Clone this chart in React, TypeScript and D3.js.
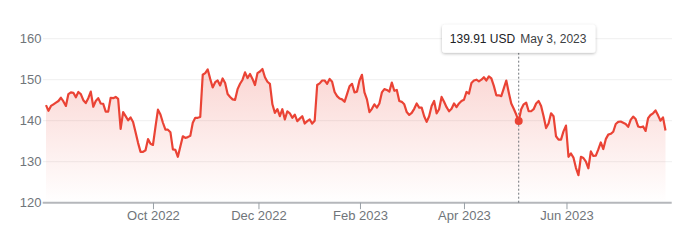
import React from "react";
import * as d3 from "d3";

// Daily closing prices (trading days, Aug 2022 – Jul 2023)
const prices: number[] = [
  143.8, 142.4, 143.6, 144.0, 144.4, 144.8, 145.6, 144.7, 143.6, 146.5,
  146.9, 146.8, 145.7, 147.0, 146.5, 145.0, 144.3, 145.5, 147.1, 143.4,
  144.8, 145.5, 144.2, 144.1, 142.2, 142.2, 145.6, 145.5, 145.8, 145.3,
  138.0, 142.1, 141.1, 140.1, 140.8,
  139.7, 137.2, 134.6, 132.4, 132.4, 132.8, 135.5, 134.4, 134.1, 138.5,
  142.7, 141.5, 139.5, 137.8, 137.8, 137.2, 133.0, 132.9, 131.2, 133.7,
  136.2, 135.8, 136.0, 136.3, 139.5, 140.7, 140.7, 140.9, 151.2, 151.6,
  152.5, 150.2, 148.1, 149.4,
  149.8, 148.6, 150.3, 149.2, 146.5, 145.8, 145.2, 145.1, 147.7, 149.0,
  150.0, 151.8, 150.4, 151.4, 150.2, 148.7, 151.6, 152.0, 152.6, 150.6,
  149.5, 149.0, 144.0, 141.9, 142.8, 141.1, 142.8, 140.3, 142.3, 141.8,
  140.7, 141.5, 139.9, 140.5, 141.1, 139.3, 139.9,
  140.3, 139.3, 140.0, 148.7, 149.1, 149.8, 149.8, 149.0, 150.2, 149.5,
  147.0, 146.0, 145.4, 145.2, 144.6, 146.5, 148.4, 149.0, 146.9, 147.1,
  149.8, 151.2, 146.9, 145.2, 142.1, 142.9, 144.0, 143.2, 144.2, 146.9,
  147.7, 147.5, 147.1, 149.3, 147.3,
  147.5, 144.8, 144.6, 144.0, 142.1, 141.4, 141.9, 142.9, 144.2, 143.2,
  143.2, 141.1, 139.7, 141.1, 143.6, 144.8, 141.8, 142.8, 145.8, 144.6,
  143.3, 142.3, 142.9, 144.2, 143.3, 144.2, 144.8, 145.1, 147.0, 146.6,
  149.2, 149.8, 150.0, 149.6,
  150.0, 150.6, 149.8, 150.8, 150.3, 148.5, 146.2, 146.2, 146.0, 147.9,
  149.8, 146.9, 144.2, 142.9, 141.5, 139.91, 142.8, 144.0, 144.4, 142.3,
  142.3, 142.8, 144.2, 144.8, 143.6, 141.1, 138.2, 139.3, 141.8, 141.1,
  136.2, 135.4, 135.4, 137.4, 138.8, 131.2, 132.0, 131.0, 128.5, 126.7,
  131.2, 130.9, 130.0, 128.4, 132.5, 131.4, 131.5, 133.0, 134.7, 133.1,
  135.5, 136.6, 136.8, 137.3, 139.2, 139.7, 139.8, 139.5, 139.2, 138.5,
  140.2, 141.0, 140.4, 138.6, 138.4, 138.6, 137.5, 140.6, 141.4, 141.8,
  142.5, 141.3, 140.0, 140.8, 137.6,
];

const yTicks: number[] = [120, 130, 140, 150, 160];
// month-start positions expressed in trading-day index units
const xTickPos: number[] = [43.2, 85.6, 126.4, 168.2, 209.4];
const xTickLabels: string[] = ["Oct 2022", "Dec 2022", "Feb 2023", "Apr 2023", "Jun 2023"];

const hoverIndex = 190;
const hoverPrice = "139.91 USD";
const hoverDate = "May 3, 2023";

const W = 699;
const H = 245;
const LINE = "#ea4335";
const FONT = "'Liberation Sans', Arial, Helvetica, sans-serif";

export default function App() {
  const x = d3.scaleLinear().domain([0, prices.length - 1]).range([46, 665.5]);
  const y = d3.scaleLinear().domain([120, 160]).range([202.7, 38.7]);

  const line = d3
    .line<number>()
    .x((_, i) => x(i))
    .y((d) => y(d));
  const area = d3
    .area<number>()
    .x((_, i) => x(i))
    .y0(y(120))
    .y1((d) => y(d));

  const hx = x(hoverIndex);
  const hy = y(prices[hoverIndex]);
  const boxW = 153.4;
  const boxH = 28;
  const boxX = hx - boxW / 2;
  const boxY = 24.7;

  return (
    <svg
      width={W}
      height={H}
      style={{ position: "absolute", left: 0, top: 0, background: "#fff" }}
      fontFamily={FONT}
    >
      <defs>
        <linearGradient id="fillGrad" x1="0" y1={y(153)} x2="0" y2={y(120)} gradientUnits="userSpaceOnUse">
          <stop offset="0" stopColor={LINE} stopOpacity={0.22} />
          <stop offset="1" stopColor={LINE} stopOpacity={0.0} />
        </linearGradient>
        <filter id="shadow" x="-20%" y="-40%" width="140%" height="190%">
          <feDropShadow dx="0" dy="1" stdDeviation="1.6" floodColor="#000" floodOpacity="0.28" />
        </filter>
      </defs>

      {yTicks
        .filter((t) => t !== 120)
        .map((t) => (
          <line key={"g" + t} x1={43} x2={672} y1={y(t)} y2={y(t)} stroke="#efefef" strokeWidth={1} />
        ))}

      {yTicks.map((t) => (
        <text key={"yl" + t} x={41.5} y={y(t) + 4.6} textAnchor="end" fontSize={13} fill="#70757a">
          {t}
        </text>
      ))}

      <path d={area(prices) || ""} fill="url(#fillGrad)" />

      <line x1={42.7} x2={671.7} y1={y(120)} y2={y(120)} stroke="#b5b7bb" strokeWidth={2} />

      {xTickPos.map((p, i) => (
        <g key={"xt" + i}>
          <line x1={x(p)} x2={x(p)} y1={y(120)} y2={y(120) + 6.5} stroke="#9aa0a6" strokeWidth={1} />
          <text x={x(p)} y={219.5} textAnchor="middle" fontSize={13} fill="#70757a">
            {xTickLabels[i]}
          </text>
        </g>
      ))}

      <line x1={hx} x2={hx} y1={boxY + boxH} y2={y(120)} stroke="#70757a" strokeWidth={1} strokeDasharray="2,2" />

      <path d={line(prices) || ""} fill="none" stroke={LINE} strokeWidth={2.2} strokeLinejoin="round" />

      <circle cx={hx} cy={hy} r={4} fill={LINE} />

      <rect x={boxX} y={boxY} width={boxW} height={boxH} rx={3} fill="#fff" filter="url(#shadow)" />
      <text x={boxX + 7.8} y={boxY + 18.3} fontSize={12} fill="#202124">
        {hoverPrice}
      </text>
      <text x={boxX + boxW - 9} y={boxY + 18.3} fontSize={12} fill="#3c4043" textAnchor="end">
        {hoverDate}
      </text>
    </svg>
  );
}
